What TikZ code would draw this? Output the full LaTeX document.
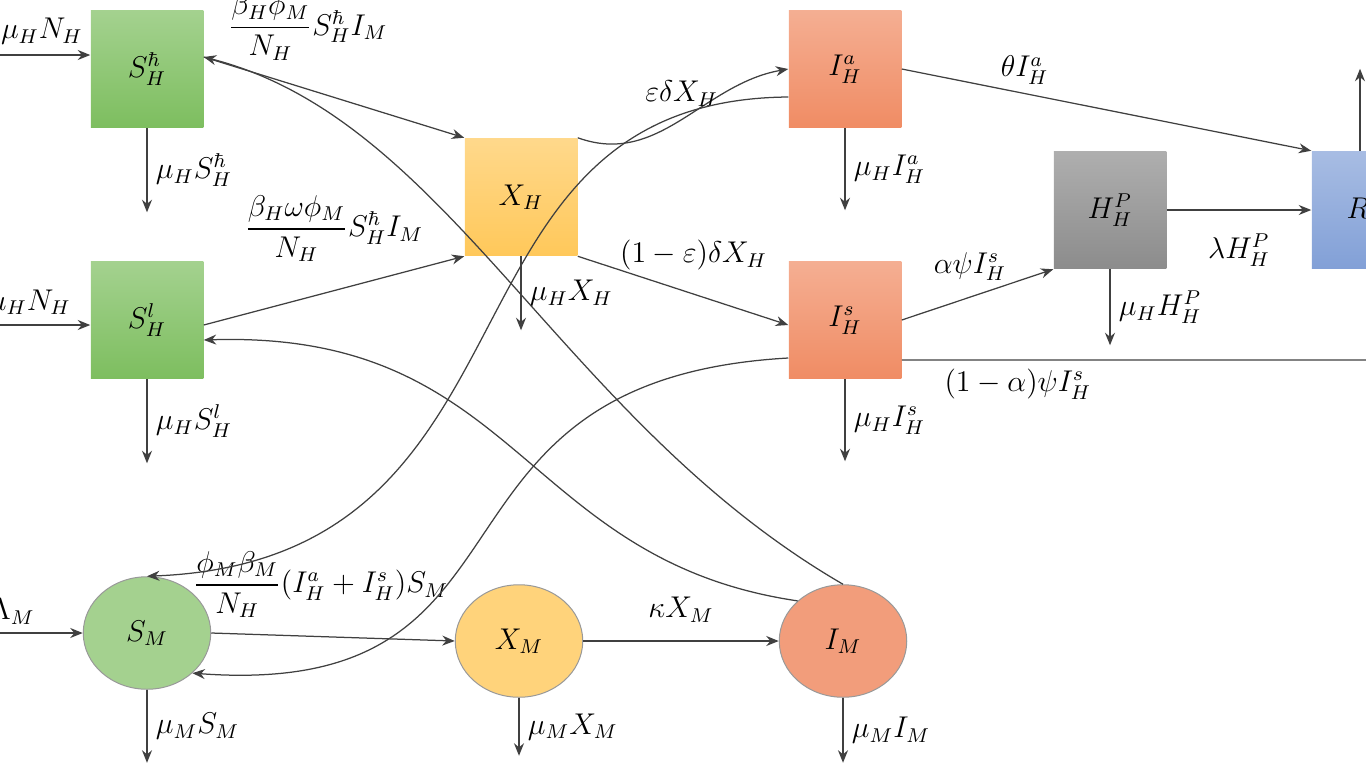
\documentclass[tikz,border=0pt]{standalone}
\usepackage{amsmath}
\usetikzlibrary{arrows.meta,shapes.geometric}
\begin{document}
\begin{tikzpicture}[x=0.4pt,y=-0.4pt,>={Stealth[length=5pt,width=4pt]},
 box/.style={draw=none,minimum width=45pt,minimum height=47pt,inner sep=0pt,top color=#1!70,bottom color=#1},
 circ/.style={ellipse,draw=black!40,minimum width=51pt,minimum height=45pt,inner sep=0pt,fill=#1},
 ln/.style={draw=black!75,line width=0.5pt},
 lb/.style={font=\large}]
\useasboundingbox (0,0) rectangle (1366,768);
\clip (0,0) rectangle (1366,768);
\definecolor{gr}{RGB}{125,190,95}
\definecolor{yl}{RGB}{255,200,90}
\definecolor{og}{RGB}{240,140,100}
\definecolor{gy}{RGB}{140,140,140}
\definecolor{bl}{RGB}{130,160,215}
\node[box=gr] (Sh) at (147,69) {\large $S_H^{\hbar}$};
\node[box=gr] (Sl) at (147,320) {\large $S_H^{l}$};
\node[box=yl] (XH) at (521,197) {\large $X_H$};
\node[box=og] (Ia) at (845,69) {\large $I_H^{a}$};
\node[box=og] (Is) at (845,320) {\large $I_H^{s}$};
\node[box=gy] (HP) at (1110,210) {\large $H_H^{P}$};
\node[box=bl] (R) at (1368,210) {\large $R_H$};
\node[circ=gr!70] (SM) at (147,633) {\large $S_M$};
\node[circ=yl!80] (XM) at (519,641) {\large $X_M$};
\node[circ=og!85] (IM) at (843,641) {\large $I_M$};
\coordinate (a0) at (-5,55); \coordinate (b0) at (-5,325); \coordinate (c0) at (-5,633);
\draw[ln,->] (a0) -- (Sh.west|-a0) node[lb,pos=0.55,above,xshift=-20pt] {$(1-p)\mu_H N_H$};
\draw[ln,->] (b0) -- (Sl.west|-b0) node[lb,pos=0.55,above,xshift=-10pt] {$p\mu_H N_H$};
\draw[ln,->] (c0) -- (SM.west|-c0) node[lb,pos=0.2,above] {$\Lambda_M$};
% deaths
\foreach \n/\l/\e in {Sh/{\mu_H S_H^{\hbar}}/84,Sl/{\mu_H S_H^{l}}/84,XH/{\mu_H X_H}/74,Ia/{\mu_H I_H^{a}}/82,Is/{\mu_H I_H^{s}}/82,HP/{\mu_H H_H^{P}}/76,SM/{\mu_M S_M}/73,XM/{\mu_M X_M}/58,IM/{\mu_M I_M}/65}{
 \draw[ln,->] (\n.south) -- ++(0,\e) node[lb,midway,right] {$\l$};}
\draw[ln,->] ([yshift=4.8pt]Sh.east) -- (XH.north west) node[lb,pos=0.4,above=8pt] {$\dfrac{\beta_H\phi_M}{N_H}S_H^{\hbar}I_M$};
\draw[ln,->] ([yshift=-2pt]Sl.east) -- (XH.south west) node[lb,pos=0.5,above=8pt] {$\dfrac{\beta_H\omega\phi_M}{N_H}S_H^{\hbar}I_M$};
\draw[ln,->] (XH.north east) to[out=-20,in=190] node[lb,pos=0.5,above=2pt] {$\varepsilon\delta X_H$} (Ia.west);
\draw[ln,->] (XH.south east) -- ([yshift=-2pt]Is.west) node[lb,pos=0.55,above=6pt] {$(1-\varepsilon)\delta X_H$};
\draw[ln,->] (Ia.east) -- (R.north west) node[lb,pos=0.3,above] {$\theta I_H^{a}$};
\draw[ln,->] (Is.east) -- (HP.south west) node[lb,pos=0.45,above=3pt] {$\alpha\psi I_H^{s}$};
\draw[ln,->] (HP.east) -- (R.west) node[lb,pos=0.5,below=6pt] {$\lambda H_H^{P}$};
\coordinate (Rend) at (1366,360);
\draw[ln] ([yshift=-16pt]Is.east) -- (Rend) node[lb,pos=0.25,below] {$(1-\alpha)\psi I_H^{s}$};
\draw[ln,->] ([xshift=-3.2pt]R.north) -- ++(0,-82);
\draw[ln,->] (SM.east) -- (XM.west) node[lb,pos=0.45,above=4pt] {$\dfrac{\phi_M\beta_M}{N_H}(I_H^{a}+I_H^{s})S_M$};
\draw[ln,->] (XM.east) -- (IM.west) node[lb,midway,above=4pt] {$\kappa X_M$};
% cross curves
\draw[ln,->] (IM.north) .. controls (560,420) and (450,120) .. ([yshift=4.8pt]Sh.east);
\draw[ln,->] (IM.north west) .. controls (520,560) and (520,330) .. ([yshift=-8pt]Sl.east);
\draw[ln,->] ([yshift=-11.2pt]Ia.west) .. controls (420,100) and (560,560) .. (SM.north);
\draw[ln,->] ([yshift=-15.2pt]Is.west) .. controls (400,380) and (560,700) .. (SM.south east);
\end{tikzpicture}
\end{document}
